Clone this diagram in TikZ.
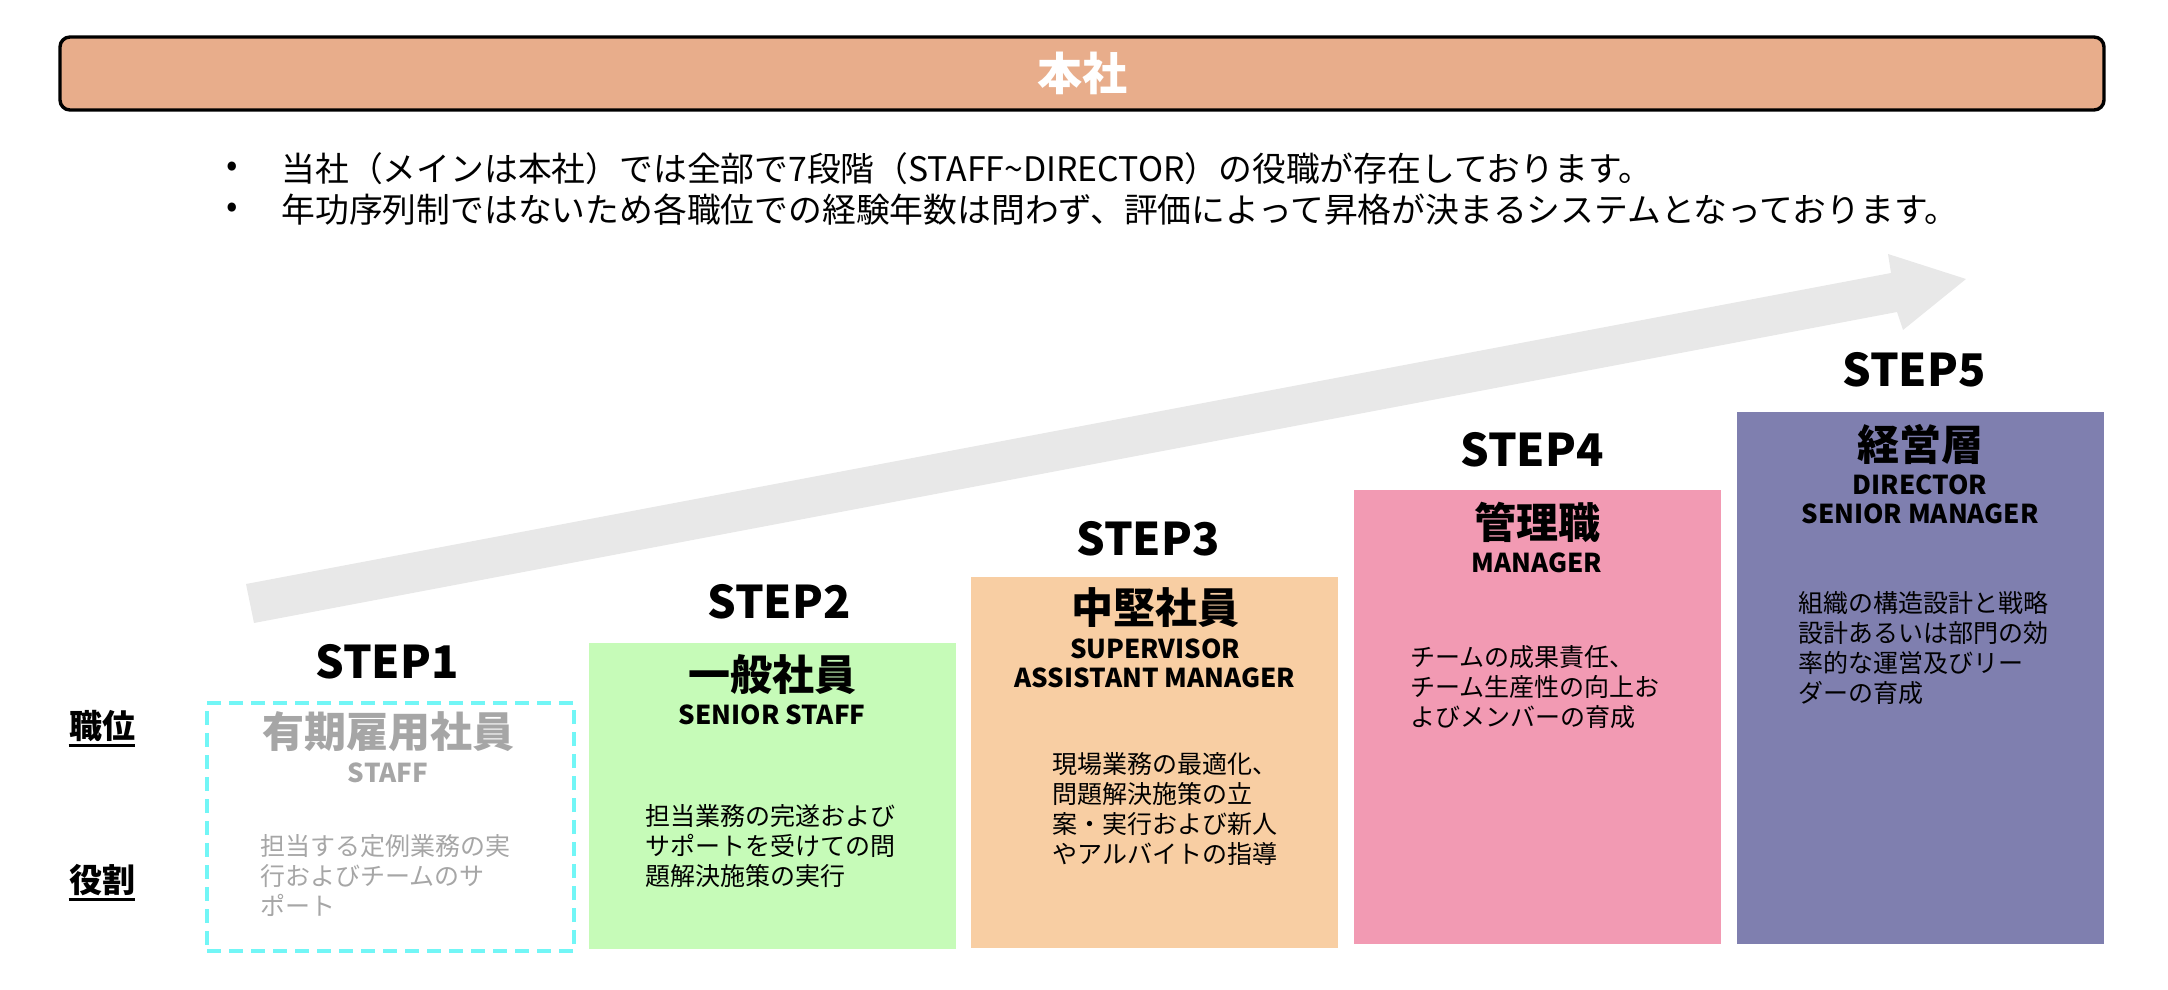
\documentclass[tikz,border=0pt]{standalone}
\usepackage{fontspec}
\setmainfont{Noto Sans CJK JP}
\usepackage{tikz}
\usetikzlibrary{positioning}
\usepackage{xcolor}
\definecolor{honsha}{HTML}{E8AD8B}
\definecolor{staffcyan}{HTML}{72F6F6}
\definecolor{seniorgreen}{HTML}{C6FBB8}
\definecolor{superpeach}{HTML}{F8CEA3}
\definecolor{managerpink}{HTML}{F29AB3}
\definecolor{directorpurple}{HTML}{7F7FAF}
\definecolor{arrowgray}{HTML}{E8E8E8}
\definecolor{mutedgray}{HTML}{A6A6A6}

\tikzset{
  steplabel/.style={font=\fontsize{22.5}{26}\selectfont\bfseries, inner sep=0pt},
  rankjp/.style={font=\fontsize{21}{24}\selectfont\bfseries, inner sep=0pt},
  ranken/.style={font=\fontsize{13}{14.5}\selectfont\bfseries, align=center, inner sep=0pt},
  roletext/.style={font=\fontsize{12.5}{15}\selectfont, align=left, anchor=north west, inner sep=0pt},
  stepcard/.style={anchor=north west, inner sep=0pt, minimum width=183.5pt},
  sidelabel/.style={font=\fontsize{16.5}{18}\selectfont\bfseries, inner sep=0pt},
  notetext/.style={font=\fontsize{16.9}{19}\selectfont, inner sep=0pt, anchor=west},
}

\begin{document}
\begin{tikzpicture}[x=0.5pt, y=-0.5pt]
    \useasboundingbox (0,0) rectangle (2168,990);

    % Header bar
    \node[draw=black, line width=1.7pt, rounded corners=5pt, fill=honsha,
          minimum width=1022pt, minimum height=36.5pt, inner sep=0pt] (hq) at (1082,73.5) {};
    \node[font=\fontsize{22.5}{26}\selectfont\bfseries, text=white, inner sep=0pt] (hqtitle) at (1082,73) {本社};

    % Notes
    \node[notetext] (bul1) at (226,169) {•};
    \node[notetext] (note1) at (281,169) {当社（メインは本社）では全部で7段階（STAFF\textasciitilde DIRECTOR）の役職が存在しております。};
    \node[notetext] (bul2) at (226,210) {•};
    \node[notetext] (note2) at (281,210) {年功序列制ではないため各職位での経験年数は問わず、評価によって昇格が決まるシステムとなっております。};

    % Growth arrow
    \fill[arrowgray] (246,584) -- (1891,273) -- (1888,254) -- (1966,279) -- (1903,330) -- (1897,312) -- (254,623) -- cycle;

    % Row labels
    \node[sidelabel] (rowpos) at (102,726) {職位};
    \draw[line width=1.5pt] ([yshift=-1.5pt]rowpos.south west) -- ([yshift=-1.5pt]rowpos.south east);
    \node[sidelabel] (rowrole) at (102,880) {役割};
    \draw[line width=1.5pt] ([yshift=-1.5pt]rowrole.south west) -- ([yshift=-1.5pt]rowrole.south east);

    % Step 1
    \node[stepcard, draw=staffcyan, line width=2pt, dash pattern=on 7pt off 4pt, minimum height=124pt] (card1) at (205,701) {};
    \node[steplabel] (step1) at (387,662) {STEP1};
    \node[rankjp, text=mutedgray] (rank1) at (388,732) {有期雇用社員};
    \node[ranken, text=mutedgray] (eng1) at (388,773) {STAFF};
    \node[roletext, text=mutedgray] (role1) at (260,834) {担当する定例業務の実\\行およびチームのサ\\ポート};

    % Step 2
    \node[stepcard, fill=seniorgreen, minimum height=153pt] (card2) at (589,643) {};
    \node[steplabel] (step2) at (779,602) {STEP2};
    \node[rankjp] (rank2) at (772,675) {一般社員};
    \node[ranken] (eng2) at (772,715) {SENIOR STAFF};
    \node[roletext] (role2) at (645,804) {担当業務の完遂および\\サポートを受けての問\\題解決施策の実行};

    % Step 3
    \node[stepcard, fill=superpeach, minimum height=185.5pt] (card3) at (971,577) {};
    \node[steplabel] (step3) at (1148,539) {STEP3};
    \node[rankjp] (rank3) at (1155,608) {中堅社員};
    \node[ranken] (eng3) at (1155,663.5) {SUPERVISOR\\ASSISTANT MANAGER};
    \node[roletext] (role3) at (1052,752) {現場業務の最適化、\\問題解決施策の立\\案・実行および新人\\やアルバイトの指導};

    % Step 4
    \node[stepcard, fill=managerpink, minimum height=227pt] (card4) at (1354,490) {};
    \node[steplabel] (step4) at (1532,450) {STEP4};
    \node[rankjp] (rank4) at (1537,522) {管理職};
    \node[ranken] (eng4) at (1537,563) {MANAGER};
    \node[roletext] (role4) at (1410,645) {チームの成果責任、\\チーム生産性の向上お\\よびメンバーの育成};

    % Step 5
    \node[stepcard, fill=directorpurple, minimum height=266pt] (card5) at (1737,412) {};
    \node[steplabel] (step5) at (1914,370) {STEP5};
    \node[rankjp] (rank5) at (1920,444) {経営層};
    \node[ranken] (eng5) at (1920,499.5) {DIRECTOR\\SENIOR MANAGER};
    \node[roletext] (role5) at (1798,591) {組織の構造設計と戦略\\設計あるいは部門の効\\率的な運営及びリー\\ダーの育成};
\end{tikzpicture}
\end{document}
